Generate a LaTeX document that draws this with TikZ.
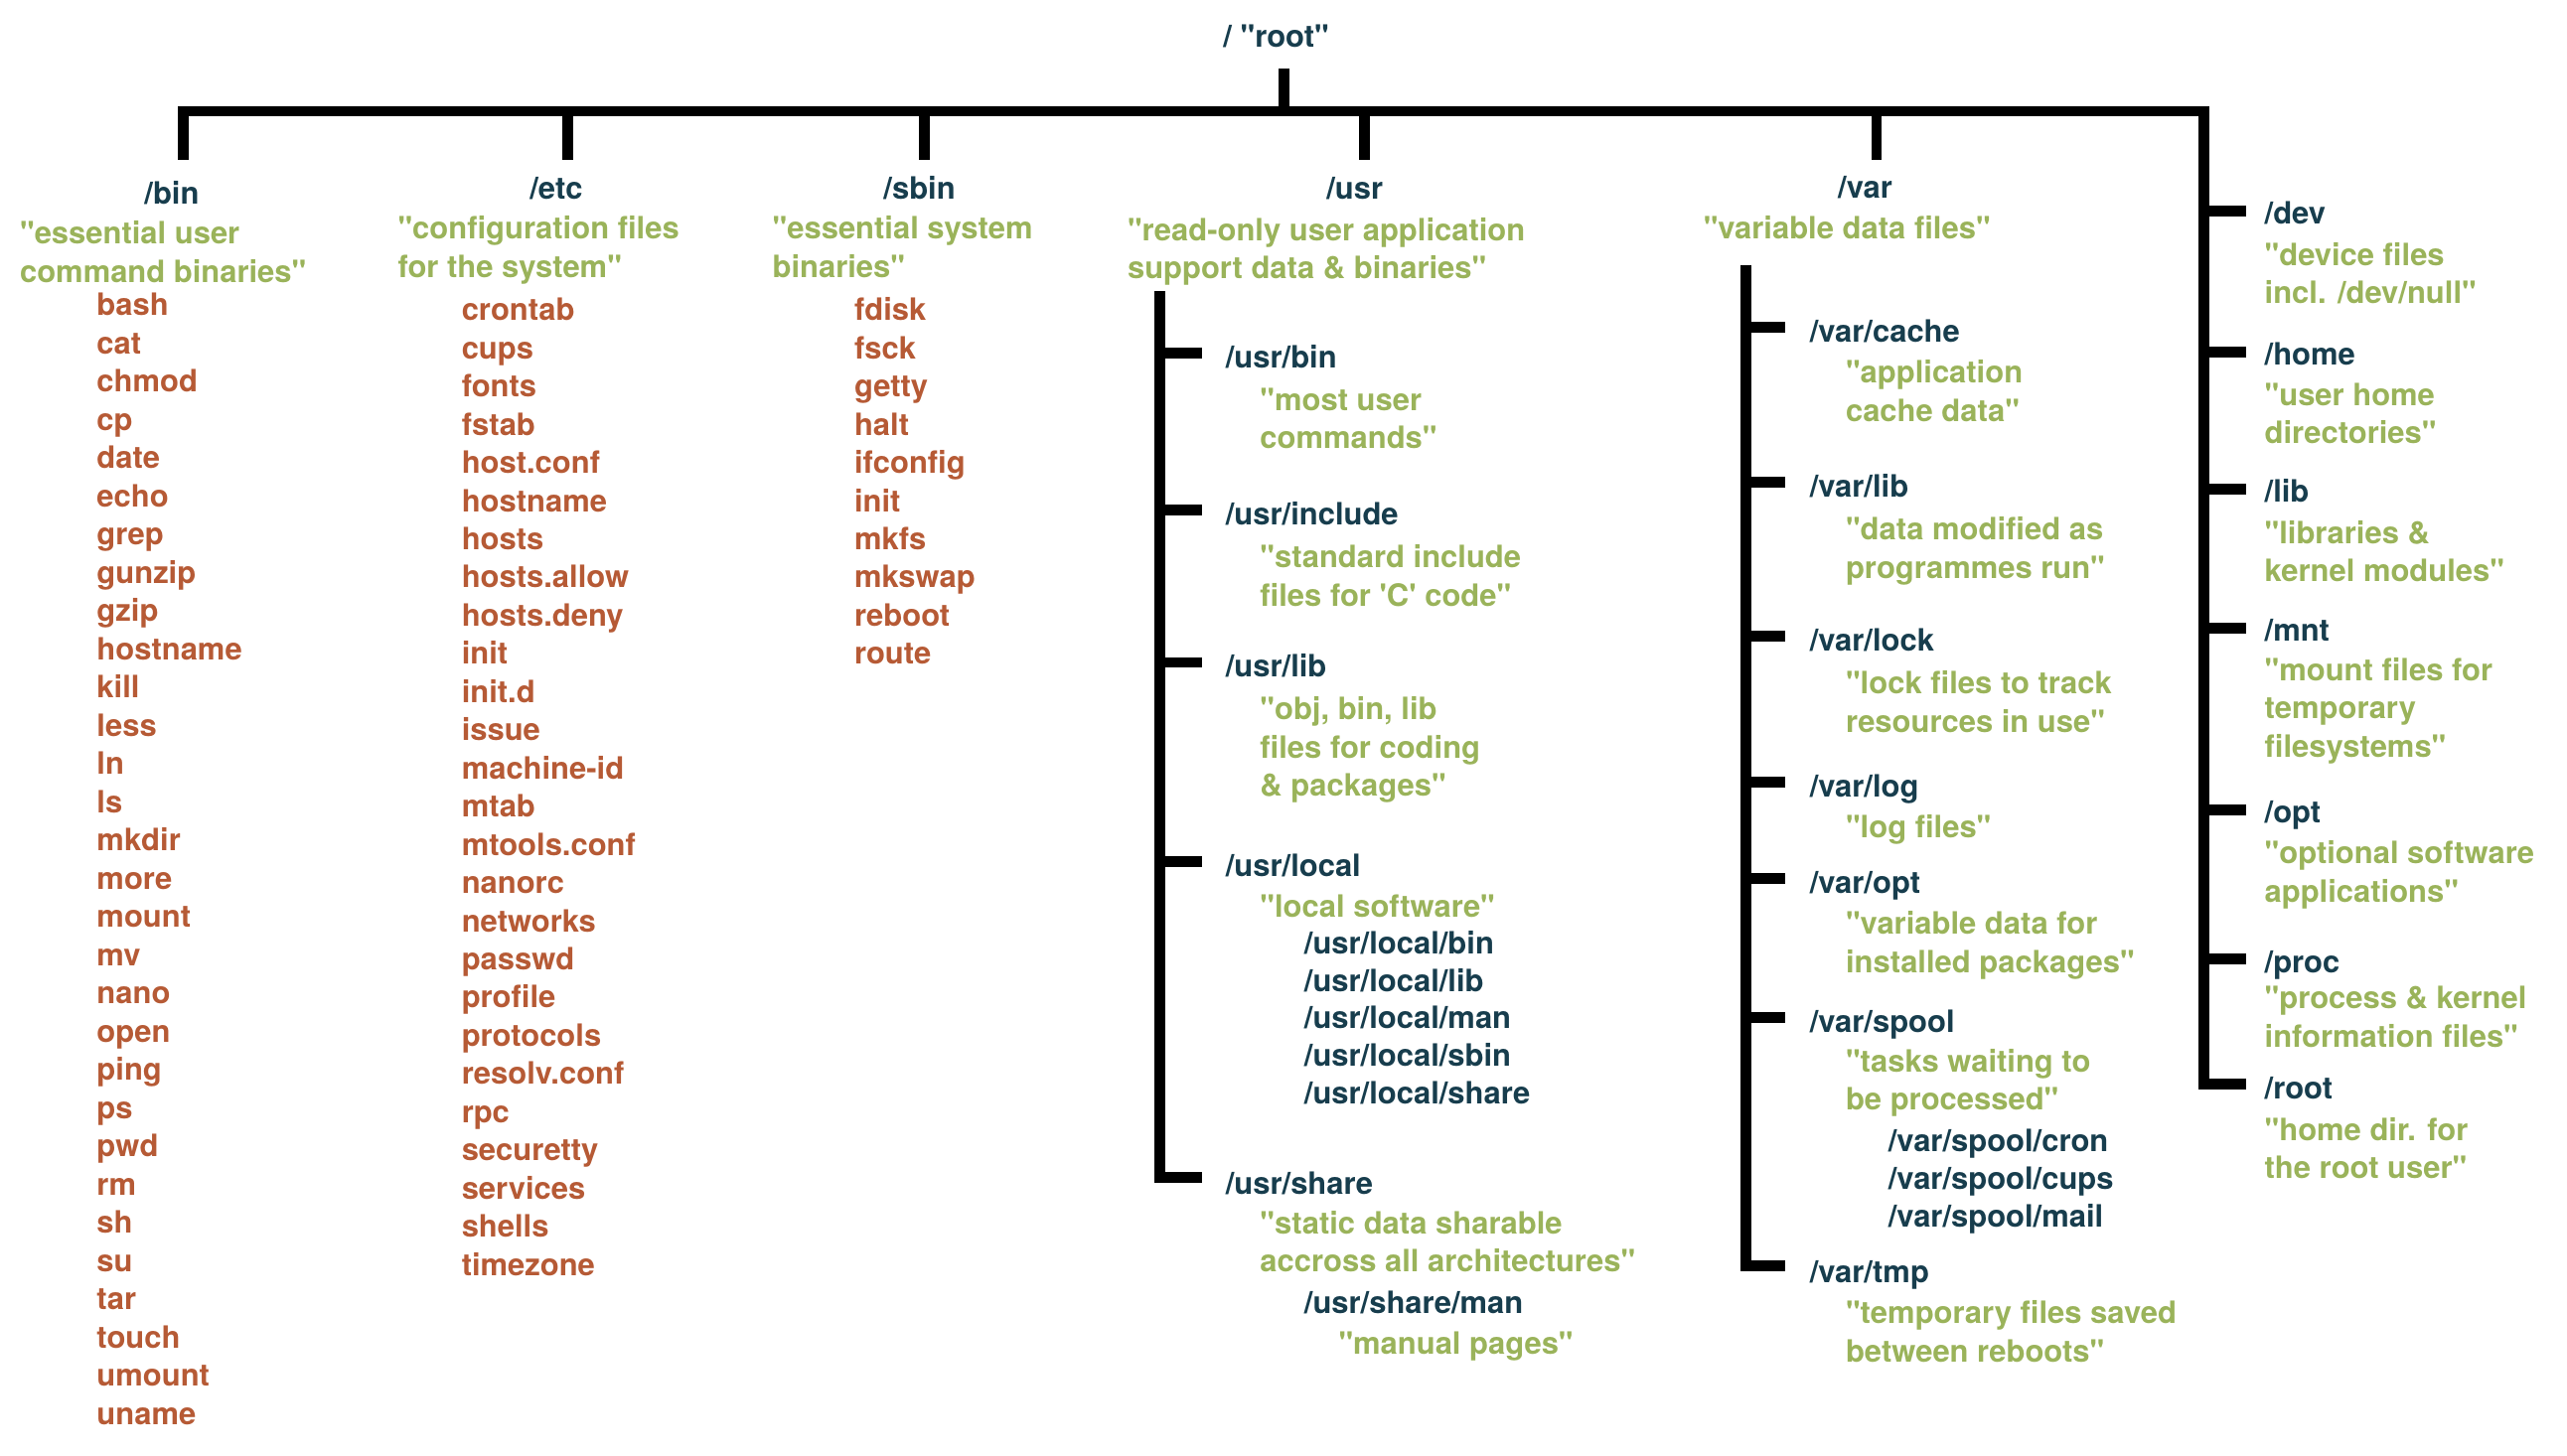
\documentclass[tikz,border=0pt]{standalone}
\usepackage{fontspec}
\setmainfont{TeX Gyre Heros}[Ligatures=TeXOff]
\definecolor{dirc}{HTML}{173D4D}
\definecolor{descc}{HTML}{9AB35A}
\definecolor{filec}{HTML}{B65A35}
\tikzset{
  lbl/.style={inner sep=0pt, yshift=-2pt, font=\bfseries\fontsize{18.8}{23.3}\selectfont},
  dir/.style={lbl, text=dirc, anchor=west, text height=14pt, text depth=4pt},
  top/.style={dir, anchor=center},
  desc/.style={lbl, text=descc, align=left, anchor=north west},
  file/.style={lbl, text=filec, anchor=west, text height=14pt, text depth=4pt},
  bar/.style={line width=6.6pt, black},
}
\begin{document}
\begin{tikzpicture}[x=1pt,y=-1pt]
    \useasboundingbox (0,0) rectangle (1569,890);
    % root and the main bar
    \node[top] (root) at (780,22) {/ "root"};
    \coordinate (root_s) at (785,42);
    \coordinate (root_j) at (785,68);
    \coordinate (bin_t) at (112,98);
    \coordinate (top_r) at (1347,68);
    \coordinate (root_tk) at (1373,663);
    \draw[bar] (root_s) -- (root_j);
    \draw[bar] (bin_t) |- (top_r) |- (root_tk);
    \foreach \n/\xx in {etc/347,sbin/565,usr/834,var/1147} {
      \coordinate (\n_j) at (\xx,68);
      \coordinate (\n_t) at (\xx,98);
      \draw[bar] (\n_j) -- (\n_t);
    }
    % top level directories
    \node[top] (bin) at (105,118) {/bin};
    \node[top] (etc) at (340,115) {/etc};
    \node[top] (sbin) at (562,115) {/sbin};
    \node[top] (usr) at (828,115) {/usr};
    \node[top] (var) at (1140,114) {/var};
    \node[desc] (bin_d) at (12,133) {"essential user\\command binaries"};
    \node[desc] (etc_d) at (243,130) {"configuration files\\for the system"};
    \node[desc] (sbin_d) at (472,130) {"essential system\\binaries"};
    \node[desc] (usr_d) at (689,131) {"read-only user application\\support data \& binaries"};
    \node[desc] (var_d) at (1041,130) {"variable data files"};
    % file lists
    \foreach \f [count=\i from 0] in {bash,cat,chmod,cp,date,echo,grep,gunzip,gzip,hostname,kill,less,ln,ls,mkdir,more,mount,mv,nano,open,ping,ps,pwd,rm,sh,su,tar,touch,umount,uname}
      \node[file] (binf\i) at (59,{186+\i*23.37}) {\f};
    \foreach \f [count=\i from 0] in {crontab,cups,fonts,fstab,host.conf,hostname,hosts,hosts.allow,hosts.deny,init,init.d,issue,machine-id,mtab,mtools.conf,nanorc,networks,passwd,profile,protocols,resolv.conf,rpc,securetty,services,shells,timezone}
      \node[file] (etcf\i) at (282,{189+\i*23.35}) {\f};
    \foreach \f [count=\i from 0] in {fdisk,fsck,getty,halt,ifconfig,init,mkfs,mkswap,reboot,route}
      \node[file] (sbinf\i) at (522,{189+\i*23.35}) {\f};
    % /usr
    \coordinate (usr_b) at (709,178);
    \coordinate (ushare_tk) at (735,720);
    \draw[bar] (usr_b) |- (ushare_tk);
    \foreach \n/\ty in {ubin/216,uinc/312,ulib/405,uloc/527} {
      \coordinate (\n_a) at (709,\ty);
      \coordinate (\n_tk) at (735,\ty);
      \draw[bar] (\n_a) -- (\n_tk);
    }
    \node[dir] (ubin) at (749,218) {/usr/bin};
    \node[desc] (ubin_d) at (770,235) {"most user\\commands"};
    \node[dir] (uinc) at (749,314) {/usr/include};
    \node[desc] (uinc_d) at (770,331) {"standard include\\files for 'C' code"};
    \node[dir] (ulib) at (749,407) {/usr/lib};
    \node[desc] (ulib_d) at (770,424) {"obj, bin, lib\\files for coding\\\& packages"};
    \node[dir] (uloc) at (749,529) {/usr/local};
    \node[desc] (uloc_d) at (770,545) {"local software"};
    \foreach \f [count=\i from 0] in {bin,lib,man,sbin,share}
      \node[dir] (uloc\i) at (797,{576+\i*23}) {/usr/local/\f};
    \node[dir] (ushare) at (749,723) {/usr/share};
    \node[desc] (ushare_d) at (770,738) {"static data sharable\\accross all architectures"};
    \node[dir] (uman) at (797,796) {/usr/share/man};
    \node[desc] (uman_d) at (818,812) {"manual pages"};
    % /var
    \coordinate (var_b) at (1067,162);
    \coordinate (vtmp_tk) at (1091,774);
    \draw[bar] (var_b) |- (vtmp_tk);
    \foreach \n/\ty in {vcache/200,vlib/295,vlock/389,vlog/478,vopt/537,vspool/622} {
      \coordinate (\n_a) at (1067,\ty);
      \coordinate (\n_tk) at (1091,\ty);
      \draw[bar] (\n_a) -- (\n_tk);
    }
    \node[dir] (vcache) at (1106,202) {/var/cache};
    \node[desc] (vcache_d) at (1128,218) {"application\\cache data"};
    \node[dir] (vlib) at (1106,297) {/var/lib};
    \node[desc] (vlib_d) at (1128,314) {"data modified as\\programmes run"};
    \node[dir] (vlock) at (1106,391) {/var/lock};
    \node[desc] (vlock_d) at (1128,408) {"lock files to track\\resources in use"};
    \node[dir] (vlog) at (1106,480) {/var/log};
    \node[desc] (vlog_d) at (1128,496) {"log files"};
    \node[dir] (vopt) at (1106,539) {/var/opt};
    \node[desc] (vopt_d) at (1128,555) {"variable data for\\installed packages"};
    \node[dir] (vspool) at (1106,624) {/var/spool};
    \node[desc] (vspool_d) at (1128,639) {"tasks waiting to\\be processed"};
    \foreach \f [count=\i from 0] in {cron,cups,mail}
      \node[dir] (vspool\i) at (1154,{697+\i*23}) {/var/spool/\f};
    \node[dir] (vtmp) at (1106,777) {/var/tmp};
    \node[desc] (vtmp_d) at (1128,793) {"temporary files saved\\between reboots"};
    % right column
    \foreach \n/\ty in {dev/129,home/215,lib/299,mnt/384,opt/495,proc/586} {
      \coordinate (\n_a) at (1347,\ty);
      \coordinate (\n_tk) at (1373,\ty);
      \draw[bar] (\n_a) -- (\n_tk);
    }
    \node[dir] (dev) at (1384,130) {/dev};
    \node[desc] (dev_d) at (1384,146) {"device files\\incl. /dev/null"};
    \node[dir] (home) at (1384,216) {/home};
    \node[desc] (home_d) at (1384,232) {"user home\\directories"};
    \node[dir] (lib) at (1384,300) {/lib};
    \node[desc] (lib_d) at (1384,316) {"libraries \&\\kernel modules"};
    \node[dir] (mnt) at (1384,385) {/mnt};
    \node[desc] (mnt_d) at (1384,400) {"mount files for\\temporary\\filesystems"};
    \node[dir] (opt) at (1384,496) {/opt};
    \node[desc] (opt_d) at (1384,512) {"optional software\\applications"};
    \node[dir] (proc) at (1384,588) {/proc};
    \node[desc] (proc_d) at (1384,601) {"process \& kernel\\information files"};
    \node[dir] (rootd) at (1384,665) {/root};
    \node[desc] (rootd_d) at (1384,681) {"home dir. for\\the root user"};
  \end{tikzpicture}
\end{document}
